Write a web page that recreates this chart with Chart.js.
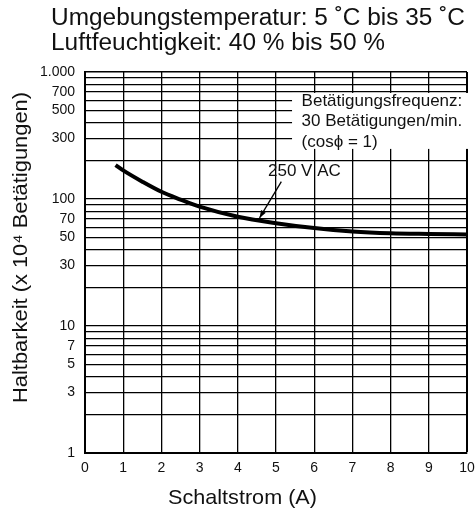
<!DOCTYPE html>
<html>
<head>
<meta charset="utf-8">
<script src="https://cdn.jsdelivr.net/npm/chart.js@4/dist/chart.umd.min.js"></script>
<style>
  html, body { margin: 0; padding: 0; background: #fff; }
  #wrap { width: 475px; height: 510px; }
</style>
</head>
<body>
<div id="wrap"><canvas id="c" width="475" height="510"></canvas></div>
<script>
// ---- Data ----
const switchingCurrent = [0.8, 1, 1.5, 2, 2.5, 3, 4, 5, 6, 7, 8, 9, 10];           // A
const durability250VAC = [185, 168, 137, 114, 99, 87, 72.5, 64.5, 59, 55.5, 53.7, 53, 52.5]; // x10^4 operations
const yGridValues = [1,2,3,4,5,6,7,8,9,10,20,30,40,50,60,70,80,90,100,200,300,400,500,600,700,800,900,1000];
const yTickLabels = [1,3,5,7,10,30,50,70,100,300,500,700,1000];
const xTickLabels = [0,1,2,3,4,5,6,7,8,9,10];
const titleLines = ['Umgebungstemperatur: 5 ˚C bis 35 ˚C', 'Luftfeuchtigkeit: 40 % bis 50 %'];
const noteLines = ['Betätigungsfrequenz:', '30 Betätigungen/min.', '(cosϕ = 1)'];
const seriesLabel = '250 V AC';
const xTitle = 'Schaltstrom (A)';
const yTitle = 'Haltbarkeit (x 10⁴ Betätigungen)';

const FONT = '"Liberation Sans", Arial, Helvetica, sans-serif';

// draw text horizontally stretched by factor sx (glyphs in the reference are a bit wider)
function stretchText(ctx, text, x, y, sx) {
  ctx.save();
  ctx.translate(x, y);
  ctx.scale(sx, 1);
  ctx.fillText(text, 0, 0);
  ctx.restore();
}

const overlay = {
  id: 'overlay',
  beforeDatasetsDraw(chart) {
    const {ctx} = chart;
    const xs = chart.scales.x, ys = chart.scales.y;
    // white note box (covers grid)
    const bx1 = xs.getPixelForValue(5.42), bx2 = xs.getPixelForValue(10) + 3;
    const by1 = ys.getPixelForValue(684), by2 = ys.getPixelForValue(248);
    ctx.save();
    ctx.fillStyle = '#fff';
    ctx.fillRect(bx1, by1, bx2 - bx1, by2 - by1);
    ctx.fillStyle = '#111';
    ctx.font = '17px ' + FONT;
    ctx.textBaseline = 'middle';
    ctx.textAlign = 'left';
    const tx = xs.getPixelForValue(5.67);
    const ty = ys.getPixelForValue(591);
    noteLines.forEach((l, i) => ctx.fillText(l, tx, ty + i * 20.5));
    ctx.restore();
  },
  afterDraw(chart) {
    const {ctx} = chart;
    const xs = chart.scales.x, ys = chart.scales.y;
    ctx.save();
    ctx.fillStyle = '#111';
    ctx.textBaseline = 'alphabetic';
    // title lines
    ctx.font = '23px ' + FONT;
    ctx.textAlign = 'left';
    const w0 = ctx.measureText(titleLines[0]).width;
    const sT = 414 / w0;
    stretchText(ctx, titleLines[0], 51, 25, sT);
    stretchText(ctx, titleLines[1], 51, 49.5, sT);
    // x axis title
    ctx.font = '21px ' + FONT;
    ctx.textAlign = 'center';
    const wx = ctx.measureText(xTitle).width;
    stretchText(ctx, xTitle, 242.5, 504, 149 / wx);
    // y axis title (rotated)
    const wy = ctx.measureText(yTitle).width;
    ctx.save();
    ctx.translate(27, 247.5);
    ctx.rotate(-Math.PI / 2);
    ctx.scale(311 / wy, 1);
    ctx.fillText(yTitle, 0, 0);
    ctx.restore();
    // series label + arrow
    ctx.font = '17px ' + FONT;
    ctx.textAlign = 'left';
    ctx.textBaseline = 'middle';
    ctx.fillText(seriesLabel, xs.getPixelForValue(4.79), ys.getPixelForValue(166));
    const x0 = xs.getPixelForValue(5.14), y0 = ys.getPixelForValue(137);
    const x1 = xs.getPixelForValue(4.57), y1 = ys.getPixelForValue(71);
    ctx.strokeStyle = '#000';
    ctx.lineWidth = 1.3;
    ctx.beginPath(); ctx.moveTo(x0, y0); ctx.lineTo(x1, y1); ctx.stroke();
    const ang = Math.atan2(y1 - y0, x1 - x0);
    const L = 8, W = 0.35;
    ctx.fillStyle = '#000';
    ctx.beginPath();
    ctx.moveTo(x1, y1);
    ctx.lineTo(x1 - L * Math.cos(ang - W), y1 - L * Math.sin(ang - W));
    ctx.lineTo(x1 - L * Math.cos(ang + W), y1 - L * Math.sin(ang + W));
    ctx.closePath(); ctx.fill();
    ctx.restore();
  }
};

new Chart(document.getElementById('c'), {
  type: 'line',
  data: {
    datasets: [{
      label: seriesLabel,
      data: switchingCurrent.map((x, i) => ({x, y: durability250VAC[i]})),
      borderColor: '#000',
      borderWidth: 4,
      pointRadius: 0,
      tension: 0.4,
      cubicInterpolationMode: 'monotone',
      fill: false
    }]
  },
  options: {
    responsive: false,
    animation: false,
    layout: { padding: { top: 72, right: 8, bottom: 0, left: 0 } },
    plugins: { legend: { display: false }, tooltip: { enabled: false }, title: { display: false } },
    scales: {
      x: {
        type: 'linear', min: 0, max: 10,
        afterFit(s) { s.height = 57; s.paddingRight = 0; s.paddingLeft = 0; },
        afterBuildTicks(s) { s.ticks = xTickLabels.map(v => ({value: v})); },
        ticks: { color: '#111', font: { size: 14, family: FONT }, padding: 7, maxRotation: 0, autoSkip: false },
        grid: { color: '#000', lineWidth: c => (c.tick && c.tick.value === 10 ? 2 : 1.3), drawTicks: false },
        border: { display: true, color: '#000', width: 2 },
        title: { display: false }
      },
      y: {
        type: 'logarithmic', min: 1, max: 1000,
        afterFit(s) { s.width = 85; s.paddingTop = 0; s.paddingBottom = 0; },
        afterBuildTicks(s) { s.ticks = yGridValues.map(v => ({value: v})); },
        ticks: {
          color: '#111', font: { size: 14, family: FONT }, padding: 10, autoSkip: false,
          callback: v => yTickLabels.includes(v) ? (v >= 1000 ? '1.000' : String(v)) : ''
        },
        grid: { color: '#000', lineWidth: c => (c.tick && c.tick.value === 1000 ? 1.6 : 1.3), drawTicks: false },
        border: { display: true, color: '#000', width: 2 },
        title: { display: false }
      }
    }
  },
  plugins: [overlay]
});
</script>
</body>
</html>
